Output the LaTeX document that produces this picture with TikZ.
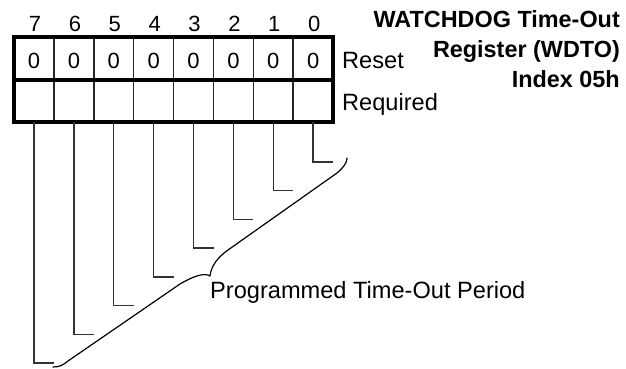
\documentclass[tikz,border=0pt]{standalone}
\usepackage{fontspec}
\setmainfont{Liberation Sans}
\begin{document}
\begin{tikzpicture}[x=1pt,y=-1pt,
  cell/.style={draw=black!85,line width=1.3pt,minimum width=40pt,minimum height=42.5pt,inner sep=0pt,outer sep=0pt,anchor=north west},
  digit/.style={font=\fontsize{22}{22}\selectfont,inner sep=0pt,anchor=base},
  lbl/.style={font=\fontsize{23.6}{23.6}\selectfont,inner sep=0pt,anchor=base west},
  ttl/.style={font=\fontsize{23.4}{23.4}\selectfont\bfseries,inner sep=0pt,anchor=base east},
  frame/.style={line width=4pt},
  leader/.style={draw=black!80,line width=1.4pt},
  bracepath/.style={line width=1.2pt,line cap=round,line join=round}]
\useasboundingbox (0,0) rectangle (626,369);
% cells
\foreach \i in {0,...,7}{
  \pgfmathsetmacro{\xx}{14+(7-\i)*39.875}
  \node[cell] (r\i) at (\xx,37) {};
  \node[cell] (q\i) at (\xx,79.5) {};
  \node[digit] (b\i) at (\xx+21,32) {\i};
  \node[digit] (z\i) at (\xx+20,69) {0};
}
% frame
\draw[frame] (r7.north west) rectangle (q0.south east);
\draw[frame] (r7.south west) -- (r0.south east);
% labels
\node[lbl] (reset) at (342,68) {Reset};
\node[lbl] (req) at (342,110) {Required};
\node[ttl] (t1) at (620,28) {WATCHDOG Time-Out};
\node[ttl] (t2) at (620,58) {Register (WDTO)};
\node[ttl] (t3) at (620,87) {Index 05h};
% leaders
\foreach \i in {0,...,7}{
  \pgfmathsetmacro{\yy}{162+\i*28.7}
  \pgfmathsetmacro{\xe}{14+(7-\i)*39.875+40}
  \coordinate (e\i) at (\xe,\yy);
  \draw[leader] (q\i.south) |- (e\i);
}
% brace
\coordinate (bl) at (53,367);
\coordinate (btip) at (210,276);
\coordinate (btr) at (347,158);
\draw[bracepath] (bl) .. controls (60,367) and (63,365) .. (68,361)
  -- (180,284) .. controls (192,277) and (204,272) .. (btip)
  .. controls (211,266) and (218,257) .. (228,250)
  -- (337,173) .. controls (343,168) and (347,163) .. (btr);
\node[lbl] (period) at (210,298) {Programmed Time-Out Period};
\end{tikzpicture}
\end{document}
